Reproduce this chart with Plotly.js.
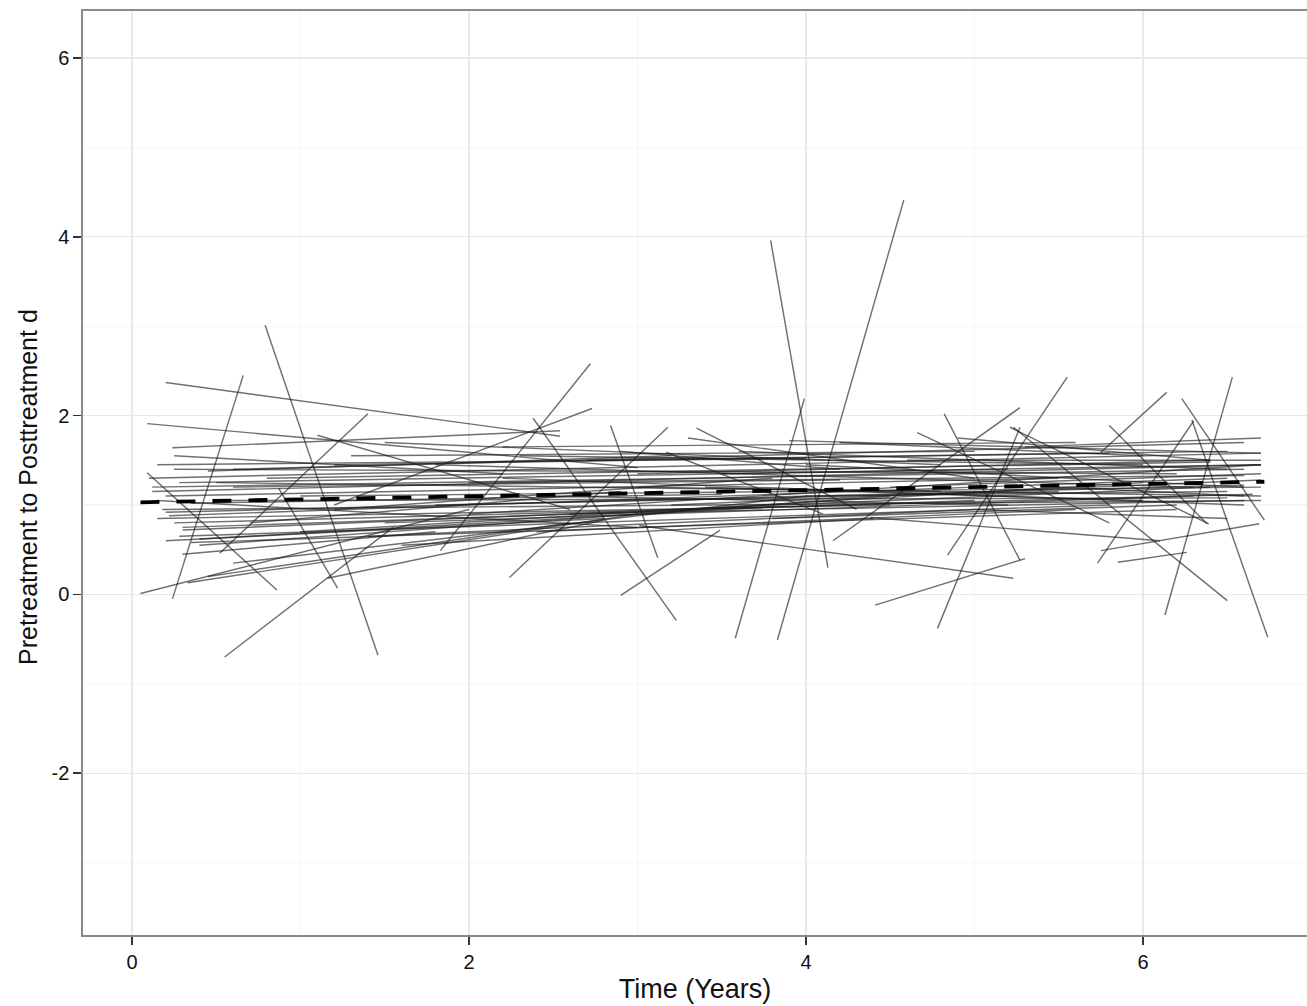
<!DOCTYPE html>
<html><head><meta charset="utf-8">
<script src="https://cdn.plot.ly/plotly-3.0.1.min.js"></script>
<style>html,body{margin:0;padding:0;background:#fff}#chart{width:1307px;height:1006px}</style>
</head><body><div id="chart"></div>
<script>
// Individual trajectories: start time, start d, end time, end d
const segStartTime = [0.79,0.66,0.55,0.52,0.05,0.09,0.87,1.16,0.20,0.09,0.24,1.10,2.72,2.73,2.38,2.84,2.90,2.24,3.58,3.83,3.79,3.01,4.41,4.78,4.84,4.82,4.16,5.75,5.73,6.23,6.29,6.53,5.23,5.85,5.75,3.17,3.35,4.66,5.21,5.80,4.38,
  0.10,0.15,0.12,0.20,0.18,0.22,0.25,0.30,0.28,0.35,0.40,0.45,0.60,0.50,0.33,0.45,0.60,1.00,1.30,1.50,1.80,2.00,2.20,2.50,2.70,3.00,3.20,3.40,3.60,3.80,4.00,4.20,4.50,4.90,5.00,1.20,0.70,0.15,0.25,2.40,1.60,3.30,5.30,5.50,2.90,0.30,3.90,
  0.12,0.20,0.30,0.25,0.50,0.80,1.00,1.50,2.00,2.30,0.40,0.20,3.50,4.00,1.20,0.60,2.60,0.15,1.80,3.00,0.35,2.20,4.60,0.28,1.40];
const segStartD = [3.01,2.45,-0.70,0.46,0.01,1.36,1.19,0.18,2.37,1.91,1.64,1.78,2.58,2.08,1.97,1.89,-0.01,0.19,-0.49,-0.51,3.96,0.77,-0.12,-0.38,0.44,2.02,0.60,1.59,0.35,2.19,1.95,2.43,1.87,0.36,0.49,1.59,1.86,1.81,1.87,1.89,0.86,
  1.30,1.45,1.20,1.10,0.95,0.88,0.80,0.72,0.65,0.58,0.55,1.38,1.40,1.25,0.13,0.20,0.35,0.70,1.55,1.70,1.45,0.90,1.30,1.10,1.50,1.35,1.00,1.20,1.60,0.85,1.45,1.70,1.20,1.75,0.95,0.95,0.80,1.05,1.55,0.70,0.55,1.75,1.65,1.20,1.60,0.45,1.72,
  1.15,0.92,0.75,1.40,1.05,1.30,1.10,0.80,1.25,1.55,0.62,0.60,1.35,1.10,1.45,1.20,0.90,0.85,1.00,1.20,1.02,1.65,1.50,1.25,0.65];
const segEndTime = [1.46,0.24,1.55,1.40,2.00,0.86,1.22,2.80,2.54,3.00,2.54,2.60,1.83,1.20,3.23,3.12,3.49,3.18,3.99,4.58,4.13,5.23,5.30,5.27,5.55,5.27,5.27,6.14,6.30,6.72,6.74,6.13,6.50,6.26,6.69,4.10,4.30,5.80,6.39,6.38,6.10,
  6.70,4.00,6.60,5.50,6.70,6.50,6.65,6.40,5.80,6.20,4.50,3.20,6.60,4.80,3.00,2.60,4.00,6.00,5.00,4.80,6.30,6.70,6.60,5.20,6.50,6.40,6.70,6.00,6.50,6.20,6.60,6.00,6.70,6.40,6.50,3.80,2.90,3.00,2.20,5.60,4.40,5.00,6.70,6.60,4.20,1.80,6.70,
  6.70,6.60,5.00,6.20,6.50,6.40,6.70,6.30,6.60,6.00,3.80,2.80,6.70,6.50,5.80,4.20,6.60,4.50,5.50,6.70,3.50,5.60,6.70,5.20,5.00];
const segEndD = [-0.68,-0.05,0.75,2.02,0.95,0.05,0.07,0.83,1.77,1.42,1.83,0.95,0.49,1.00,-0.29,0.41,0.72,1.87,2.19,4.41,0.30,0.18,0.40,1.87,2.43,0.38,2.09,2.26,1.94,0.83,-0.48,-0.23,-0.07,0.47,0.79,0.90,0.95,0.80,0.79,0.79,0.60,
  1.58,1.52,1.40,1.30,1.05,1.30,1.12,1.20,1.00,0.95,1.10,1.55,1.70,1.15,0.90,0.80,1.10,1.25,1.60,1.45,1.20,1.45,1.00,1.00,1.60,1.50,1.28,1.05,1.40,1.00,1.20,1.55,1.35,1.50,0.85,1.30,1.15,0.75,1.35,0.95,0.85,1.30,1.75,1.10,1.40,0.70,1.58,
  1.45,1.22,1.05,1.35,1.08,1.48,1.20,1.10,1.33,1.45,0.98,0.85,1.45,1.15,1.58,1.28,1.05,1.00,1.15,1.10,1.12,1.70,1.50,1.40,0.95];
// Average trajectory (dashed)
const trendTime = [0.05, 6.72];
const trendD = [1.03, 1.26];
const xTickVals = [0, 2, 4, 6];
const yTickVals = [-2, 0, 2, 4, 6];

const traces = segStartTime.map((t0, i) => ({
  type: 'scatter', mode: 'lines',
  x: [t0, segEndTime[i]], y: [segStartD[i], segEndD[i]],
  line: {color: 'rgba(25,25,25,0.62)', width: 1.45},
  hoverinfo: 'skip', showlegend: false
}));
traces.push({
  type: 'scatter', mode: 'lines', x: trendTime, y: trendD,
  line: {color: '#000', width: 3.8, dash: '19px,17px'},
  hoverinfo: 'skip', showlegend: false
});

const fam = 'Liberation Sans, Arial, sans-serif';
const axisFont = {family: fam, size: 20, color: '#111'};
const layout = {
  width: 1307, height: 1006,
  margin: {l: 83, r: 0, t: 11, b: 71},
  paper_bgcolor: '#fff', plot_bgcolor: '#fff',
  showlegend: false,
  xaxis: {
    range: [-0.2908, 6.973], tickvals: xTickVals, ticktext: xTickVals.map(String),
    showgrid: true, gridcolor: '#e9e9e9', gridwidth: 1.3,
    minor: {tickvals: [1, 3, 5], showgrid: true, gridcolor: '#f5f5f5', gridwidth: 1.3},
    zeroline: false, showline: true, mirror: true, linecolor: '#8a8a8a', linewidth: 1.6,
    ticks: 'outside', ticklen: 8, tickwidth: 1.6, tickcolor: '#333',
    tickfont: axisFont,
    title: {text: 'Time (Years)', font: {family: fam, size: 27, color: '#111'}, standoff: 7},
    automargin: false
  },
  yaxis: {
    range: [-3.81, 6.526], tickvals: yTickVals, ticktext: yTickVals.map(String),
    showgrid: true, gridcolor: '#e9e9e9', gridwidth: 1.3,
    minor: {tickvals: [-3, -1, 1, 3, 5], showgrid: true, gridcolor: '#f5f5f5', gridwidth: 1.3},
    zeroline: false, showline: true, mirror: false, linecolor: '#8a8a8a', linewidth: 1.6,
    ticks: 'outside', ticklen: 8, tickwidth: 1.6, tickcolor: '#333',
    tickfont: axisFont,
    automargin: false
  },
  annotations: [{
    text: 'Pretreatment to Posttreatment d', textangle: -90,
    xref: 'paper', yref: 'paper', x: -0.0449, y: 0.485, xanchor: 'center', yanchor: 'middle',
    showarrow: false, font: {family: fam, size: 25, color: '#111'}
  }]
};
Plotly.newPlot('chart', traces, layout, {displayModeBar: false, staticPlot: true});
</script>
</body></html>
